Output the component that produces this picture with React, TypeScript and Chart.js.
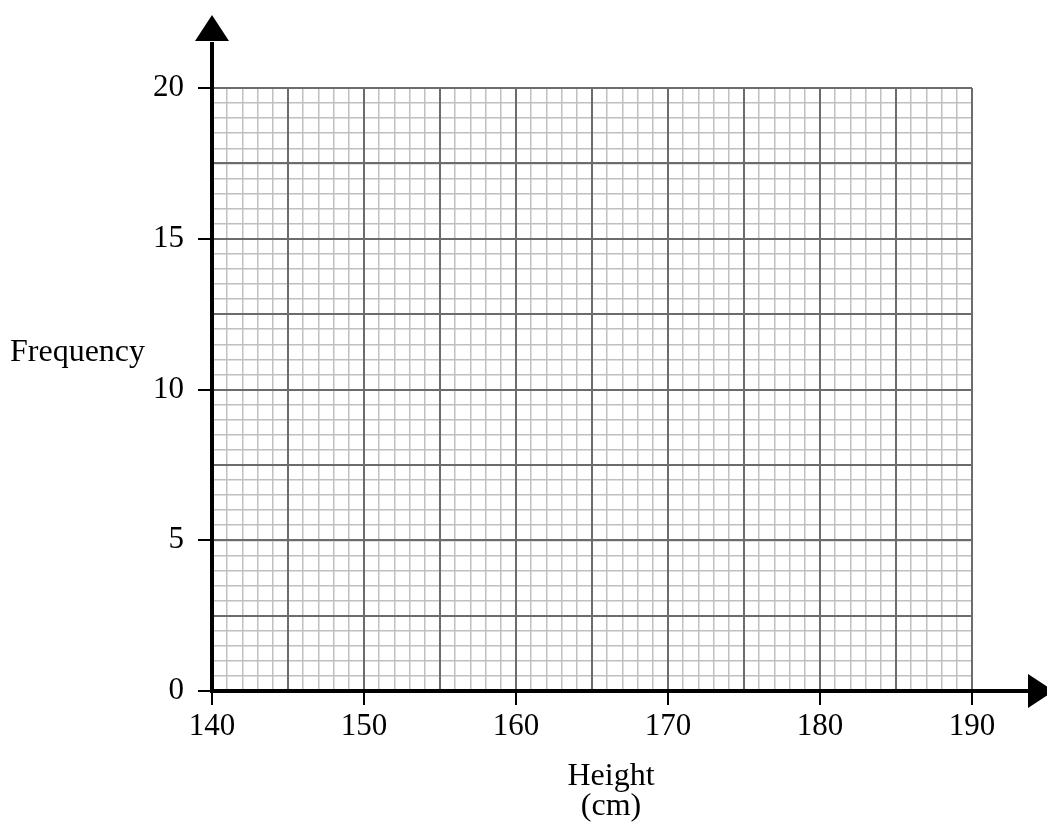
import React, { useEffect, useRef } from "react";
import { Chart, registerables } from "chart.js";

Chart.register(...registerables);

// axis ranges and the ticks that carry a label
const heightRange = [140, 190];
const frequencyRange = [0, 20];
const heightLabels = [140, 150, 160, 170, 180, 190];
const frequencyLabels = [0, 5, 10, 15, 20];
// graph paper: small square and bold square sizes
const heightSteps = [1, 5];
const frequencySteps = [0.5, 2.5];
const xTitle = ["Height", "(cm)"];
const yTitle = "Frequency";

const FONT = '"Liberation Serif", "Times New Roman", serif';
const MINOR = "#c0c0c0";
const MAJOR = "#6c6c6c";

const axesPlugin = {
  id: "axesArrows",
  afterDraw(chart: Chart) {
    const { ctx, chartArea } = chart;
    const { left, right, top, bottom } = chartArea;
    ctx.save();
    ctx.strokeStyle = "#000";
    ctx.fillStyle = "#000";
    ctx.lineWidth = 4;
    ctx.beginPath();
    ctx.moveTo(left, bottom + 2);
    ctx.lineTo(left, top - 46);
    ctx.moveTo(left - 2, bottom);
    ctx.lineTo(right + 57, bottom);
    ctx.stroke();

    ctx.beginPath();
    ctx.moveTo(left, top - 73);
    ctx.lineTo(left - 17, top - 47);
    ctx.lineTo(left + 17, top - 47);
    ctx.closePath();
    ctx.moveTo(right + 82, bottom);
    ctx.lineTo(right + 56, bottom - 17);
    ctx.lineTo(right + 56, bottom + 17);
    ctx.closePath();
    ctx.fill();

    ctx.font = `32px ${FONT}`;
    ctx.textBaseline = "alphabetic";
    ctx.textAlign = "left";
    ctx.fillText(yTitle, 10, 361);
    ctx.textAlign = "center";
    const cx = (left + right) / 2 + 19;
    ctx.fillText(xTitle[0], cx, 785);
    ctx.fillText(xTitle[1], cx, 815);
    ctx.restore();
  },
};

const App: React.FC = () => {
  const canvasRef = useRef<HTMLCanvasElement>(null);

  useEffect(() => {
    if (!canvasRef.current) return;
    const ctx = canvasRef.current.getContext("2d")!;
    const tickFont = { family: FONT, size: 31 };
    const hidden = "rgba(0,0,0,0)";

    const chart = new Chart(ctx, {
      type: "scatter",
      data: { datasets: [] },
      options: {
        responsive: false,
        animation: false,
        layout: { padding: { top: 88, right: 75, left: 0, bottom: 0 } },
        plugins: { legend: { display: false }, tooltip: { enabled: false } },
        scales: {
          xMinor: {
            type: "linear",
            position: "bottom",
            min: heightRange[0],
            max: heightRange[1],
            ticks: { display: false, stepSize: heightSteps[0] },
            grid: { color: MINOR, lineWidth: 1.5, drawTicks: false, z: -2 },
            border: { display: false },
            afterFit: (s: any) => {
              s.height = 0;
            },
          },
          x: {
            type: "linear",
            position: "bottom",
            min: heightRange[0],
            max: heightRange[1],
            ticks: {
              stepSize: heightSteps[1],
              autoSkip: false,
              maxRotation: 0,
              padding: 3,
              color: "#000",
              font: tickFont,
              callback: (v: any) => (heightLabels.includes(Number(v)) ? String(v) : ""),
            },
            grid: {
              color: MAJOR,
              lineWidth: 2,
              tickLength: 14,
              tickWidth: 2,
              tickColor: (c: any) => (heightLabels.includes(c.tick?.value) ? "#000" : hidden),
              z: -1,
            },
            border: { display: false },
            afterFit: (s: any) => {
              s.height = 136;
            },
          },
          yMinor: {
            type: "linear",
            position: "left",
            min: frequencyRange[0],
            max: frequencyRange[1],
            ticks: { display: false, stepSize: frequencySteps[0] },
            grid: { color: MINOR, lineWidth: 1.5, drawTicks: false, z: -2 },
            border: { display: false },
            afterFit: (s: any) => {
              s.width = 0;
            },
          },
          y: {
            type: "linear",
            position: "left",
            min: frequencyRange[0],
            max: frequencyRange[1],
            ticks: {
              stepSize: frequencySteps[1],
              autoSkip: false,
              padding: 14,
              color: "#000",
              font: tickFont,
              callback: (v: any) => (frequencyLabels.includes(Number(v)) ? String(v) : ""),
            },
            grid: {
              color: MAJOR,
              lineWidth: 2,
              tickLength: 14,
              tickWidth: 2,
              tickColor: (c: any) => (frequencyLabels.includes(c.tick?.value) ? "#000" : hidden),
              z: -1,
            },
            border: { display: false },
            afterFit: (s: any) => {
              s.width = 212;
            },
          },
        },
      } as any,
      plugins: [axesPlugin],
    });

    return () => {
      chart.destroy();
    };
  }, []);

  return (
    <div style={{ position: "fixed", left: 0, top: 0, width: 1047, height: 827, background: "#fff" }}>
      <canvas ref={canvasRef} width={1047} height={827} style={{ display: "block" }}></canvas>
    </div>
  );
};

export default App;
